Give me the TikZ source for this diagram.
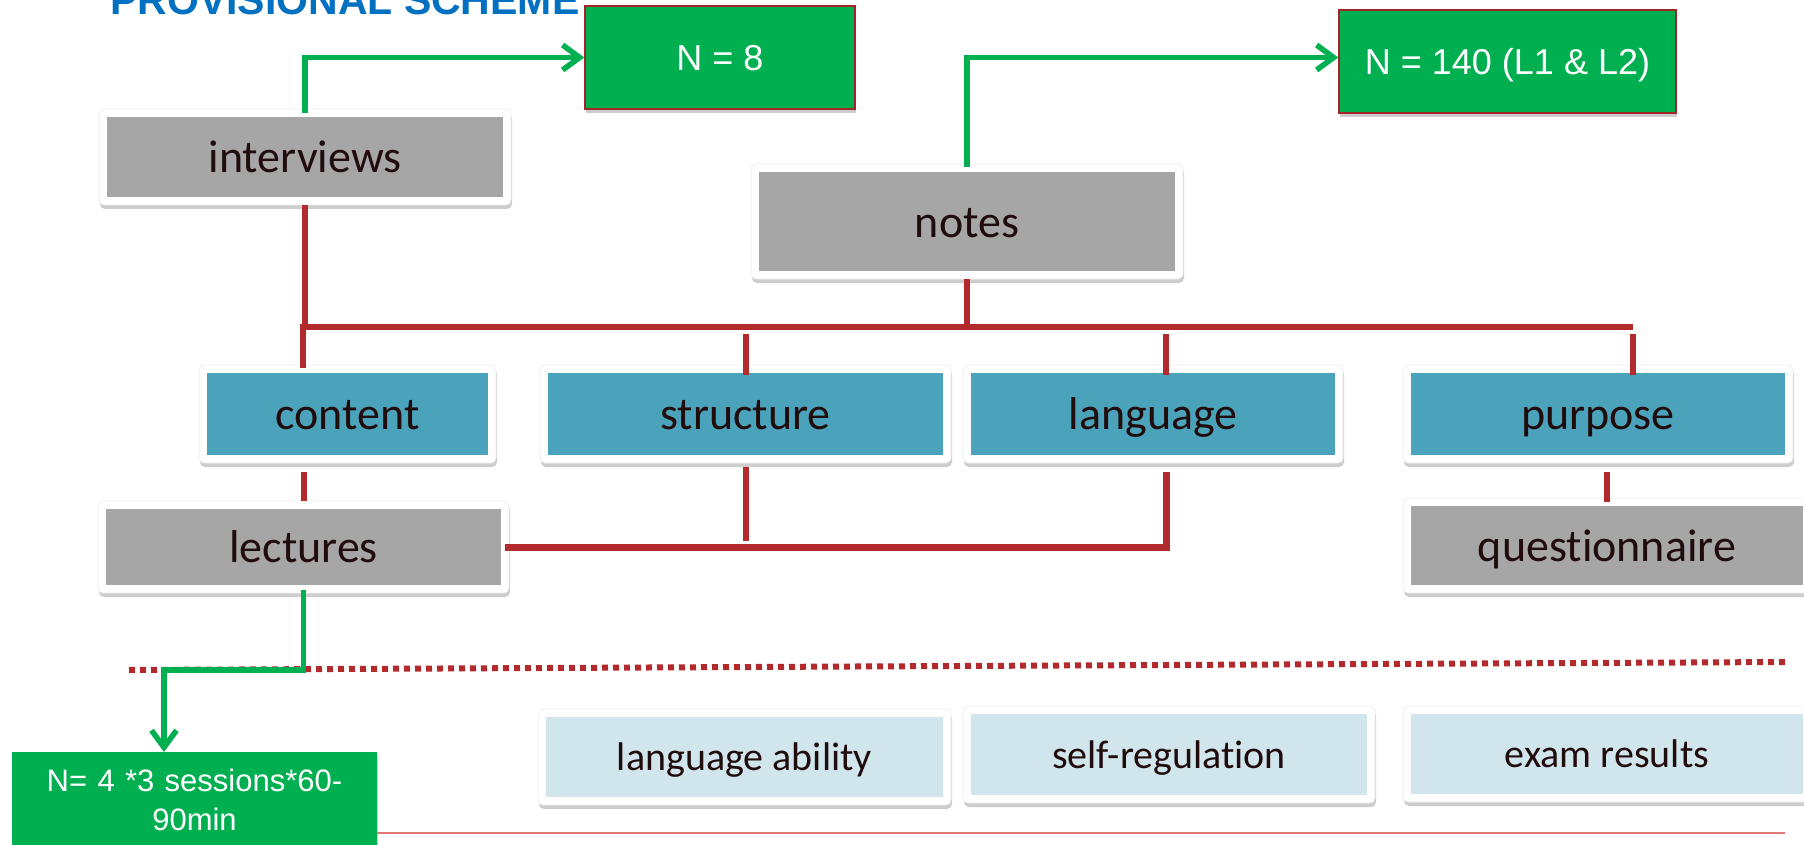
\documentclass[tikz,border=0pt]{standalone}
\usepackage{fontspec}
\newfontfamily\calibri[Ligatures=NoCommon]{Carlito}
\newfontfamily\arial{Liberation Sans}
\usetikzlibrary{arrows.meta,shadows,calc}

\definecolor{boxgrey}{RGB}{166,166,166}
\definecolor{teal}{RGB}{75,162,187}
\definecolor{paleblue}{RGB}{208,230,236}
\definecolor{ink}{RGB}{32,12,12}
\definecolor{linkred}{RGB}{178,42,44}
\definecolor{rulered}{RGB}{228,120,120}
\definecolor{samplegreen}{RGB}{0,176,80}
\definecolor{titleblue}{RGB}{0,112,192}

\tikzset{
  panel/.style={rectangle, rounded corners=5pt, fill=white, inner sep=0pt,
    draw=black!7, line width=0.8pt,
    text=ink, text depth=0pt,
    drop shadow={shadow xshift=1pt, shadow yshift=-4pt, opacity=0.28, fill=black!70}},
  inset/.style={path picture={\fill[#1, sharp corners]
    ([xshift=8pt,yshift=-8pt]path picture bounding box.north west) rectangle
    ([xshift=-8pt,yshift=8pt]path picture bounding box.south east);}},
  bigtext/.style={font=\calibri\fontsize{46pt}{55pt}\selectfont, text height=31pt},
  smalltext/.style={font=\calibri\fontsize{40pt}{48pt}\selectfont, text height=27pt},
  sample/.style={rectangle, fill=samplegreen, inner sep=0pt, text=white,
    drop shadow={shadow xshift=1pt, shadow yshift=-4pt, opacity=0.28, fill=black!70}},
  samplebox/.style={sample, draw=linkred!90!black, line width=1.5pt,
    font=\arial\fontsize{36pt}{43pt}\selectfont, text height=26pt, text depth=0pt},
  redlink/.style={draw=linkred, line width=6pt},
  greenlink/.style={draw=samplegreen, line width=5.5pt,
    -{Straight Barb[length=17pt,width=25pt]}},
}

\begin{document}
\begin{tikzpicture}[x=1pt,y=-1pt]
\useasboundingbox (0,0) rectangle (1804,845);

% heading, partly above the page edge
\node[anchor=base west, inner sep=0pt, text=titleblue,
      font=\arial\bfseries\fontsize{41pt}{49pt}\selectfont] (title) at (110,15)
      {PROVISIONAL SCHEME};

% sample sizes
\node[samplebox, minimum width=270pt, minimum height=103pt] (n8)   at (720,57.5)   {N = 8};
\node[samplebox, minimum width=337pt, minimum height=103pt] (n140) at (1507.5,61.5) {N = 140 (L1 \& L2)};

% data sources
\node[panel, inset=boxgrey, bigtext, minimum width=412pt, minimum height=96pt]  (interviews) at (305,157)    {interviews};
\node[panel, inset=boxgrey, bigtext, minimum width=432pt, minimum height=115pt] (notes)      at (967,221.5)  {notes};
\node[panel, inset=boxgrey, bigtext, minimum width=411pt, minimum height=92pt]  (lectures)   at (303.5,547)  {lectures};
\node[panel, inset=boxgrey, bigtext, minimum width=408pt, minimum height=95pt]  (questionnaire) at (1607,545.5) {questionnaire};

% aspects of the notes
\node[panel, inset=teal, bigtext, minimum width=297pt, minimum height=98pt] (content)   at (347.5,414)  {content};
\node[panel, inset=teal, bigtext, minimum width=411pt, minimum height=98pt] (structure) at (745.5,414)  {structure};
\node[panel, inset=teal, bigtext, minimum width=380pt, minimum height=98pt] (language)  at (1153,414)   {language};
\node[panel, inset=teal, bigtext, minimum width=390pt, minimum height=98pt] (purpose)   at (1598,414)   {purpose};

% student variables
\node[panel, inset=paleblue, smalltext, minimum width=413pt, minimum height=96pt] (ability) at (744.5,757) {language ability};
\node[panel, inset=paleblue, smalltext, minimum width=412pt, minimum height=97pt] (selfreg) at (1169,754.5) {self-regulation};
\node[panel, inset=paleblue, smalltext, minimum width=408pt, minimum height=96pt] (exam)    at (1607,754)   {exam results};

% lecture sample
\node[sample, anchor=north, minimum width=365pt, minimum height=96pt,
      text width=365pt, align=center,
      font=\arial\fontsize{31pt}{39pt}\selectfont] (n4) at (194.5,752)
      {N= 4 *3 sessions*60-\\90min};

% junctions
\coordinate (busL) at (303,327);
\coordinate (busR) at (1633,327);
\coordinate (dropLang) at (1166,334);
\coordinate (dropPurp) at (1633,334);
\coordinate (lowLang) at (1166,472);
\coordinate (dotL) at (129,670);
\coordinate (dotR) at (1788,662);
\coordinate (turn) at (164,670);
\coordinate (ruleR) at (1785,833);

% separators
\draw[linkred, line width=6pt, dash pattern=on 6pt off 5pt] (dotL) -- (dotR);
\draw[rulered, line width=1.5pt] (n4.east |- ruleR) -- (ruleR);

% tree of notes aspects
\draw[redlink] (interviews.south) -- (interviews.south |- busL);
\draw[redlink] (notes.south) -- (notes.south |- busL);
\draw[redlink] ([xshift=-3pt]busL) -- (busR);
\draw[redlink] (busL) -- ([yshift=-3pt]busL |- content.north);
\draw[redlink] ([yshift=-7pt]structure.north |- busL) -- ([yshift=-10pt]structure.north);
\draw[redlink] (dropLang) -- ([yshift=-10pt]dropLang |- language.north);
\draw[redlink] (dropPurp) -- ([yshift=-10pt]dropPurp |- purpose.north);
\draw[redlink] ([yshift=-9pt]lectures.north |- content.south) -- (lectures.north);
\draw[redlink] ([yshift=-9pt]questionnaire.north |- purpose.south) -- ([yshift=-4pt]questionnaire.north);
\draw[redlink] ([yshift=-4pt]structure.south) -- ([yshift=6pt]structure.south |- lectures.east);
\draw[linkred, line width=7pt] (lowLang) |- ([xshift=-4pt]lectures.east);

% sample sizes
\draw[greenlink] ([yshift=-4pt]interviews.north) |- (n8.west);
\draw[greenlink] ([yshift=-3pt]notes.north) |- ([yshift=4pt]n140.west);
\draw[greenlink] ([yshift=3pt]lectures.south) |- (turn) -- (turn |- n4.north);
\end{tikzpicture}
\end{document}
